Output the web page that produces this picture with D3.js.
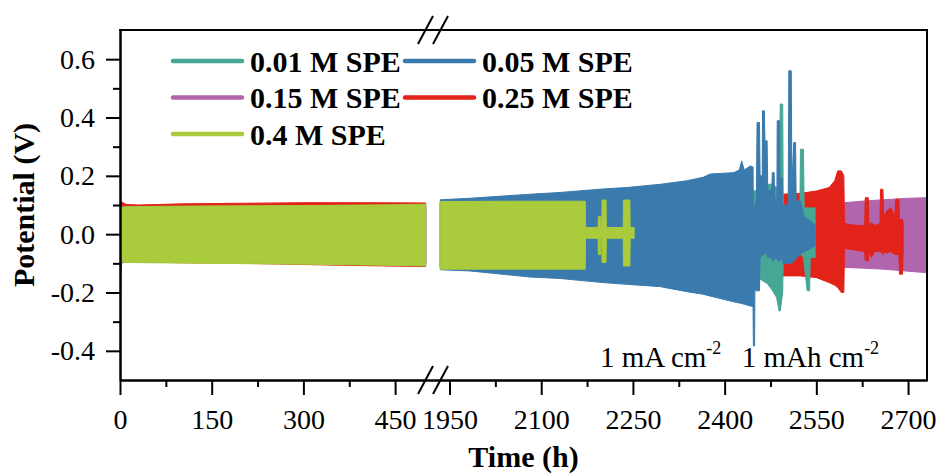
<!DOCTYPE html>
<html>
<head>
<meta charset="utf-8">
<script src="https://cdn.jsdelivr.net/npm/d3@7"></script>
<style>
body { margin: 0; background: #fff; }
text { font-family: "Liberation Serif", "Times New Roman", serif; fill: #000; }
</style>
</head>
<body>
<script>
const w = 944;
const h = 475;

// envelope of each cycling trace: time (h), upper and lower potential (V)
const time001 = [0, 5, 100, 300, 500, 1935, 2100, 2300, 2440, 2447, 2458, 2470, 2477, 2485, 2489, 2491, 2495, 2496, 2523, 2524, 2529, 2530, 2535, 2539, 2540, 2548];
const upper001 = [0.09, 0.093, 0.094, 0.096, 0.098, 0.11, 0.125, 0.15, 0.18, 0.148, 0.15, 0.17, 0.172, 0.16, 0.16, 0.446, 0.446, 0.05, 0.05, 0.291, 0.291, 0.09, 0.09, 0.09, 0.09, 0.09];
const lower001 = [-0.09, -0.094, -0.096, -0.1, -0.104, -0.115, -0.13, -0.16, -0.2, -0.14, -0.154, -0.17, -0.19, -0.217, -0.263, -0.263, -0.2, -0.05, -0.05, -0.07, -0.08, -0.1, -0.194, -0.194, -0.08, -0.08];

const time005 = [0, 5, 100, 300, 500, 1935, 1983, 2082, 2131, 2201, 2240, 2295, 2338, 2365, 2376, 2415, 2424, 2428, 2432, 2442, 2446.5, 2447, 2449, 2449.5, 2452, 2453, 2457, 2458, 2461.5, 2462, 2465, 2466, 2469.5, 2470.5, 2477, 2478, 2481, 2482, 2485.5, 2486, 2490, 2490.5, 2494, 2495, 2504, 2505, 2509, 2510, 2513, 2516, 2517, 2524, 2530, 2540, 2548];
const upper005 = [0.09, 0.093, 0.094, 0.096, 0.099, 0.118, 0.123, 0.137, 0.143, 0.155, 0.16, 0.171, 0.183, 0.195, 0.206, 0.211, 0.22, 0.251, 0.22, 0.234, 0.23, 0.06, 0.06, 0.1, 0.12, 0.383, 0.383, 0.2, 0.2, 0.423, 0.423, 0.32, 0.32, 0.15, 0.15, 0.211, 0.211, 0.12, 0.12, 0.389, 0.389, 0.19, 0.194, 0.1, 0.1, 0.56, 0.56, 0.16, 0.314, 0.314, 0.114, 0.114, 0.06, 0.046, 0.03];
const lower005 = [-0.09, -0.094, -0.096, -0.1, -0.105, -0.122, -0.126, -0.147, -0.152, -0.166, -0.172, -0.18, -0.197, -0.206, -0.212, -0.232, -0.236, -0.238, -0.24, -0.246, -0.248, -0.383, -0.383, -0.19, -0.194, -0.194, -0.194, -0.08, -0.07, -0.07, -0.07, -0.06, -0.07, -0.08, -0.08, -0.09, -0.09, -0.08, -0.08, -0.09, -0.09, -0.09, -0.08, -0.1, -0.1, -0.1, -0.1, -0.1, -0.09, -0.09, -0.08, -0.07, -0.06, -0.05, -0.04];

const time015 = [0, 1, 2, 10, 100, 300, 500, 1935, 2300, 2590, 2596, 2630, 2660, 2700, 2730];
const upper015 = [0.09, 0.09, 0.095, 0.095, 0.096, 0.098, 0.1, 0.105, 0.107, 0.108, 0.108, 0.114, 0.118, 0.123, 0.125];
const lower015 = [-0.2, -0.2, -0.1, -0.095, -0.097, -0.1, -0.104, -0.11, -0.112, -0.114, -0.114, -0.117, -0.12, -0.127, -0.132];

const time025 = [0, 1, 3, 10, 30, 100, 200, 300, 400, 500, 1935, 2100, 2300, 2450, 2492, 2524, 2550, 2571, 2580, 2585, 2591, 2595, 2596, 2600, 2615, 2629, 2630, 2635, 2636, 2640, 2645, 2654, 2655, 2659, 2660, 2665, 2672, 2678, 2680, 2685, 2686, 2691, 2692];
const upper025 = [0.117, 0.117, 0.11, 0.102, 0.1, 0.104, 0.106, 0.108, 0.108, 0.107, 0.11, 0.115, 0.12, 0.13, 0.137, 0.14, 0.148, 0.16, 0.183, 0.217, 0.217, 0.2, 0.04, 0.035, 0.03, 0.03, 0.125, 0.125, 0.03, 0.04, 0.03, 0.035, 0.154, 0.154, 0.06, 0.08, 0.09, 0.06, 0.12, 0.12, 0.05, 0.05, 0.04];
const lower025 = [-0.13, -0.13, -0.09, -0.092, -0.095, -0.098, -0.1, -0.104, -0.108, -0.111, -0.115, -0.12, -0.128, -0.135, -0.143, -0.143, -0.149, -0.166, -0.175, -0.183, -0.2, -0.2, -0.05, -0.05, -0.055, -0.06, -0.091, -0.091, -0.06, -0.08, -0.06, -0.06, -0.06, -0.07, -0.06, -0.065, -0.06, -0.07, -0.07, -0.07, -0.137, -0.137, -0.06];

const time04 = [0, 3, 10, 50, 150, 300, 450, 500, 1935, 2050, 2172, 2172.5, 2193, 2193.5, 2197, 2197.5, 2199, 2199.5, 2206, 2206.5, 2234, 2234.5, 2245, 2245.5, 2252];
const upper04 = [0.09, 0.092, 0.094, 0.095, 0.097, 0.098, 0.101, 0.103, 0.112, 0.113, 0.113, 0.023, 0.023, 0.06, 0.06, 0.023, 0.023, 0.117, 0.117, 0.023, 0.023, 0.117, 0.117, 0.023, 0.023];
const lower04 = [-0.09, -0.095, -0.097, -0.098, -0.1, -0.103, -0.107, -0.109, -0.12, -0.12, -0.12, -0.014, -0.014, -0.07, -0.07, -0.014, -0.014, -0.097, -0.097, -0.014, -0.014, -0.109, -0.109, -0.014, -0.014];

const labels = ["0.01 M SPE", "0.05 M SPE", "0.15 M SPE", "0.25 M SPE", "0.4 M SPE"];
const colors = ["#47a795", "#3a7aac", "#b065ad", "#e2231a", "#a9cb3c"];
const yTicks = [-0.4, -0.2, 0, 0.2, 0.4, 0.6];
const yMinor = [-0.3, -0.1, 0.1, 0.3, 0.5];
const xTicksLeft = [0, 150, 300, 450];
const xMinorLeft = [75, 225, 375];
const xTicksRight = [1950, 2100, 2250, 2400, 2550, 2700];
const xMinorRight = [2025, 2175, 2325, 2475, 2625];

const series = [
  { t: time001, hi: upper001, lo: lower001 },
  { t: time005, hi: upper005, lo: lower005 },
  { t: time015, hi: upper015, lo: lower015 },
  { t: time025, hi: upper025, lo: lower025 },
  { t: time04, hi: upper04, lo: lower04 }
];
const drawOrder = [2, 3, 0, 1, 4];

const pL = 120, pR = 927, pT = 30, pB = 380;
const xLeft = d3.scaleLinear().domain([0, 512]).range([pL, 433]);
const xRight = d3.scaleLinear().domain([1923, 2731]).range([433, pR]);
const y = d3.scaleLinear().domain([-0.5, 0.7]).range([pB, pT]);
const breakX = xLeft(512);

const svg = d3.select("body").append("svg").attr("width", w).attr("height", h);

const defs = svg.append("defs");
defs.append("clipPath").attr("id", "clipL").append("rect")
  .attr("x", pL).attr("y", pT).attr("width", breakX - pL).attr("height", pB - pT);
defs.append("clipPath").attr("id", "clipR").append("rect")
  .attr("x", breakX).attr("y", pT).attr("width", pR - breakX).attr("height", pB - pT);

const segments = [
  { sc: xLeft, clip: "url(#clipL)", keep: t => t <= 512 },
  { sc: xRight, clip: "url(#clipR)", keep: t => t >= 1923 }
];

drawOrder.forEach(i => {
  const s = series[i];
  const rows = s.t.map((t, k) => ({ t: t, hi: s.hi[k], lo: s.lo[k] }));
  segments.forEach(seg => {
    const part = rows.filter(d => seg.keep(d.t));
    if (part.length < 2) return;
    const area = d3.area().x(d => seg.sc(d.t)).y0(d => y(d.lo)).y1(d => y(d.hi));
    svg.append("path").datum(part)
      .attr("d", area)
      .attr("fill", colors[i])
      .attr("stroke", colors[i])
      .attr("stroke-width", 1)
      .attr("clip-path", seg.clip);
  });
});

// axes
function styleAxis(g) {
  g.selectAll("path, line").attr("stroke", "#000").attr("stroke-width", 2);
  g.selectAll("text").attr("font-family", "Liberation Serif, serif").attr("font-size", 28).attr("fill", "#000");
  g.attr("font-family", null).attr("font-size", null);
}

svg.append("g").attr("transform", `translate(0,${pB})`)
  .call(d3.axisBottom(xLeft).tickValues(xTicksLeft).tickSize(15).tickSizeOuter(0).tickPadding(14).tickFormat(d3.format("d")))
  .call(styleAxis);
svg.append("g").attr("transform", `translate(0,${pB})`)
  .call(d3.axisBottom(xLeft).tickValues(xMinorLeft).tickSize(7).tickSizeOuter(0).tickFormat(""))
  .call(styleAxis);
svg.append("g").attr("transform", `translate(0,${pB})`)
  .call(d3.axisBottom(xRight).tickValues(xTicksRight).tickSize(15).tickSizeOuter(0).tickPadding(14).tickFormat(d3.format("d")))
  .call(styleAxis);
svg.append("g").attr("transform", `translate(0,${pB})`)
  .call(d3.axisBottom(xRight).tickValues(xMinorRight).tickSize(7).tickSizeOuter(0).tickFormat(""))
  .call(styleAxis);

svg.append("g").attr("transform", `translate(${pL},0)`)
  .call(d3.axisLeft(y).tickValues(yTicks).tickSize(14).tickSizeOuter(0).tickPadding(11).tickFormat(d => d.toFixed(1)))
  .call(styleAxis);
svg.append("g").attr("transform", `translate(${pL},0)`)
  .call(d3.axisLeft(y).tickValues(yMinor).tickSize(7).tickSizeOuter(0).tickFormat(""))
  .call(styleAxis);

// frame: top and right
svg.append("path")
  .attr("d", `M${pL},${pT}H${pR}V${pB}`)
  .attr("fill", "none").attr("stroke", "#000").attr("stroke-width", 2)
  .attr("stroke-linecap", "square");

// axis break marks
[pT, pB].forEach(yy => {
  [breakX - 15, breakX].forEach(x0 => {
    svg.append("line")
      .attr("x1", x0).attr("y1", yy + 14).attr("x2", x0 + 15).attr("y2", yy - 14)
      .attr("stroke", "#000").attr("stroke-width", 2);
  });
});

// titles
svg.append("text")
  .attr("x", (pL + pR) / 2).attr("y", 467)
  .attr("text-anchor", "middle").attr("font-size", 30).attr("font-weight", "bold")
  .text("Time (h)");
svg.append("text")
  .attr("transform", `translate(34,${(pT + pB) / 2}) rotate(-90)`)
  .attr("text-anchor", "middle").attr("font-size", 30).attr("font-weight", "bold")
  .text("Potential (V)");

// legend
const legend = svg.append("g");
labels.forEach((lab, i) => {
  const lx = i % 2 === 0 ? 173 : 405;
  const ly = 61 + Math.floor(i / 2) * 36.5;
  legend.append("line")
    .attr("x1", lx).attr("x2", lx + 69).attr("y1", ly).attr("y2", ly)
    .attr("stroke", colors[i]).attr("stroke-width", 4.5).attr("stroke-linecap", "round");
  legend.append("text")
    .attr("x", lx + 77).attr("y", ly + 10.7)
    .attr("font-size", 30).attr("font-weight", "bold")
    .text(lab);
});

// test condition note
const note = svg.append("text").attr("x", 600).attr("y", 367).attr("font-size", 29);
note.append("tspan").text("1 mA cm");
note.append("tspan").attr("font-size", 18).attr("dy", -13).text("-2");
note.append("tspan").attr("x", 741.7).attr("dy", 13).text("1 mAh cm");
note.append("tspan").attr("font-size", 18).attr("dy", -13).text("-2");
</script>
</body>
</html>
